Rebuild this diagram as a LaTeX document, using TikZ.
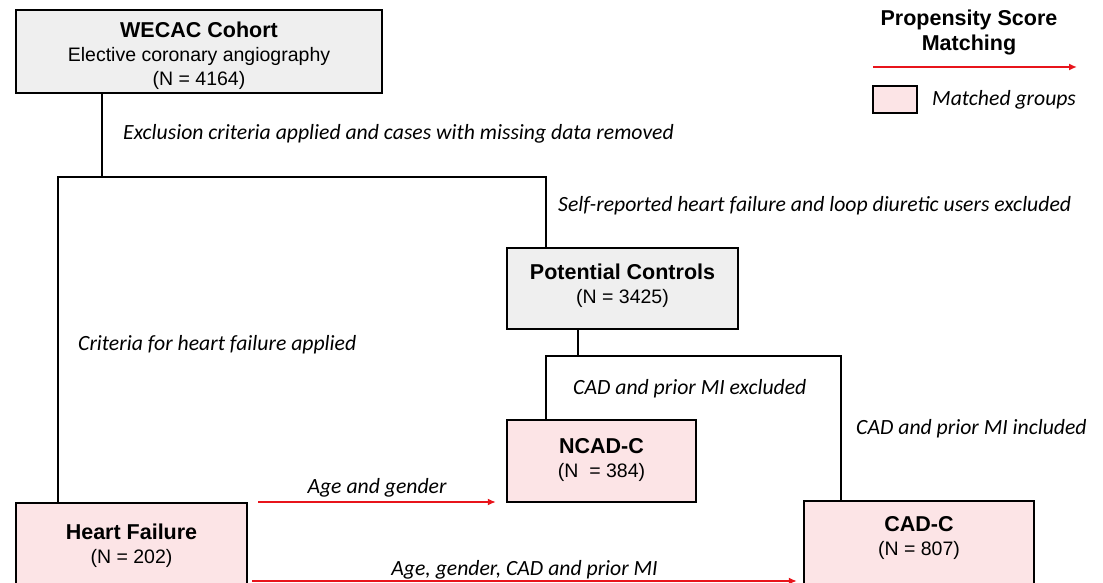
\documentclass[tikz,border=0pt]{standalone}
\usepackage{fontspec}
\setmainfont{Liberation Sans}
\newfontfamily\calibri{Carlito}
\usetikzlibrary{arrows.meta,calc}
\definecolor{boxgray}{HTML}{EFEFEF}
\definecolor{matchpink}{HTML}{FCE4E6}
\definecolor{matchred}{HTML}{E8141B}
\newcommand\boxhead[1]{{\fontsize{21.5}{24}\selectfont\bfseries #1}}
\tikzset{
	box/.style={draw=black, line width=2.3pt, align=center, inner sep=0pt, anchor=north,
		font=\fontsize{19.5}{24}\selectfont},
	cohort/.style={box, fill=boxgray},
	matched/.style={box, fill=matchpink},
	branch/.style={line width=2pt},
	crit/.style={font=\calibri\itshape\fontsize{21.7}{24}\selectfont, inner sep=0pt, anchor=west},
	psmlabel/.style={font=\calibri\itshape\fontsize{21.7}{24}\selectfont, inner sep=0pt},
	psm/.style={draw=matchred, line width=2pt, -{Latex[length=8pt,width=7pt]}}
}

\begin{document}
\begin{tikzpicture}[x=1pt,y=-1pt]
			%%%%% START %%%%%
			\useasboundingbox (0,0) rectangle (1103,583);
			\clip (0,0) rectangle (1103,583);
			
			\node[cohort, minimum width=366pt, text height=75.5pt, text depth=7.5pt] (wecac) at (199,9)
				{\boxhead{WECAC Cohort}\\Elective coronary angiography\\(N = 4164)};
			\node[cohort, minimum width=231pt, text height=55.5pt, text depth=25.5pt] (pc) at (622.5,247)
				{\boxhead{Potential Controls}\\(N = 3425)};
			\node[matched, minimum width=189pt, text height=57.5pt, text depth=24.5pt] (ncad) at (601.5,419)
				{\boxhead{NCAD-C}\\(N\ \ = 384)};
			\node[matched, minimum width=231pt, text height=60.5pt, text depth=60pt] (hf) at (131.5,502)
				{\boxhead{Heart Failure}\\(N = 202)};
			\node[matched, minimum width=230pt, text height=54.5pt, text depth=60pt] (cadc) at (919,500)
				{\boxhead{CAD-C}\\(N = 807)};
			
			%%%%% tree %%%%%
			\coordinate (fork1) at (102,177);
			\coordinate (hfleg) at (58,177);
			\coordinate (pcleg) at (546,177);
			\coordinate (fork2) at (578,356);
			\coordinate (ncleg) at (546,356);
			\coordinate (cadleg) at (841,356);
			
			\draw[branch] (wecac.south -| fork1) -- (fork1);
			\draw[branch] (hf.north -| hfleg) -- (hfleg) -- (pcleg) -- (pc.north -| pcleg);
			\draw[branch] (pc.south -| fork2) -- (fork2);
			\draw[branch] (ncad.north -| ncleg) -- (ncleg) -- (cadleg) -- (cadc.north -| cadleg);
			
			\node[crit] (excl) at (123,134) {Exclusion criteria applied and cases with missing data removed};
			\node[crit] (selfrep) at (558,206) {Self-reported heart failure and loop diuretic users excluded};
			\node[crit] (hfcrit) at (78,345) {Criteria for heart failure applied};
			\node[crit] (cadex) at (573,389) {CAD and prior MI excluded};
			\node[crit] (cadin) at (856,429) {CAD and prior MI included};
			
			%%%%% matching %%%%%
			\coordinate (lowrow) at (0,581);
			\draw[psm] ([xshift=10pt]hf.north east) -- ([xshift=-10pt]hf.north east -| ncad.west)
				node[psmlabel, midway, above=4pt] (agegen) {Age and gender};
			\draw[psm] ([xshift=4pt]hf.east |- lowrow) -- ([xshift=-6pt]cadc.west |- lowrow)
				node[psmlabel, midway, above=1pt] (agecad) {Age, gender, CAD and prior MI};
			
			%%%%% legend %%%%%
			\node[font=\bfseries\fontsize{21.5}{25}\selectfont, align=center, inner sep=0pt] (psmtitle) at (969,32)
				{Propensity Score\\Matching};
			\coordinate (legstart) at (873,67);
			\coordinate (legtip) at (1077,67);
			\draw[psm] (legstart) -- (legtip);
			\node[matched, anchor=center, minimum width=44pt, minimum height=27pt] (legbox) at (895,99.5) {};
			\node[crit] (legtext) at (932,100) {Matched groups};
			
			%%%%% END %%%%%
\end{tikzpicture}
\end{document}
